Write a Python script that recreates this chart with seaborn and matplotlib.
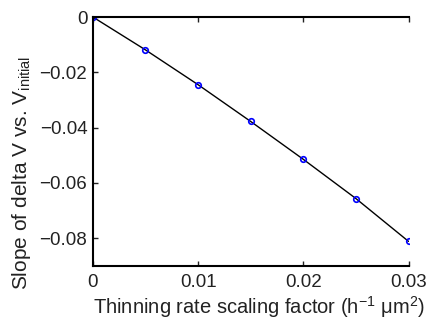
import matplotlib
matplotlib.use("Agg")
import matplotlib.pyplot as plt
import seaborn as sns
import pandas as pd

# Thinning rate scaling factor and resulting slope
scaling_factor = [0.0, 0.005, 0.010, 0.015, 0.020, 0.025, 0.030]
slope = [0.0, -0.0119, -0.0245, -0.0378, -0.0515, -0.0657, -0.0812]

x_ticks = [0, 0.01, 0.02, 0.03]
x_tick_labels = ["0", "0.01", "0.02", "0.03"]
y_ticks = [0, -0.02, -0.04, -0.06, -0.08]
y_tick_labels = ["0", "\u22120.02", "\u22120.04", "\u22120.06", "\u22120.08"]

sns.set_style("white")
plt.rcParams["font.family"] = ["Liberation Sans", "DejaVu Sans"]
plt.rcParams["mathtext.default"] = "regular"

df = pd.DataFrame({"factor": scaling_factor, "slope": slope})

fig = plt.figure(figsize=(4.30, 3.24), dpi=100)
ax = fig.add_axes([0.216, 0.18, 0.734, 0.7675])

sns.lineplot(data=df, x="factor", y="slope", ax=ax, color="black", linewidth=1.0,
             marker="o", markersize=4, markerfacecolor="none",
             markeredgecolor="blue", markeredgewidth=1.2)

ax.set_xlim(0, 0.03)
ax.set_ylim(-0.09, 0)
ax.set_xticks(x_ticks)
ax.set_xticklabels(x_tick_labels)
ax.set_yticks(y_ticks)
ax.set_yticklabels(y_tick_labels)

for side in ["left", "bottom", "top"]:
    ax.spines[side].set_visible(True)
    ax.spines[side].set_color("black")
    ax.spines[side].set_linewidth(1.5)
ax.spines["right"].set_visible(False)

ax.tick_params(axis="both", which="major", direction="in", length=3.5, width=1,
               labelsize=13.5, colors="#222222")
ax.tick_params(axis="x", top=True, bottom=True, pad=6)
ax.tick_params(axis="y", left=True, right=False, pad=4)

ax.set_xlabel("Thinning rate scaling factor (h$^{-1}$ \u03bcm$^{2}$)", fontsize=14.5,
              color="#222222", va="center")
ax.set_ylabel("Slope of delta V vs. V$_{initial}$", fontsize=15,
              color="#222222", va="center")
ax.xaxis.set_label_coords(0.526, -0.168)
ax.yaxis.set_label_coords(-0.225, 0.375)

fig.savefig("out.png", dpi=100, facecolor="white")
